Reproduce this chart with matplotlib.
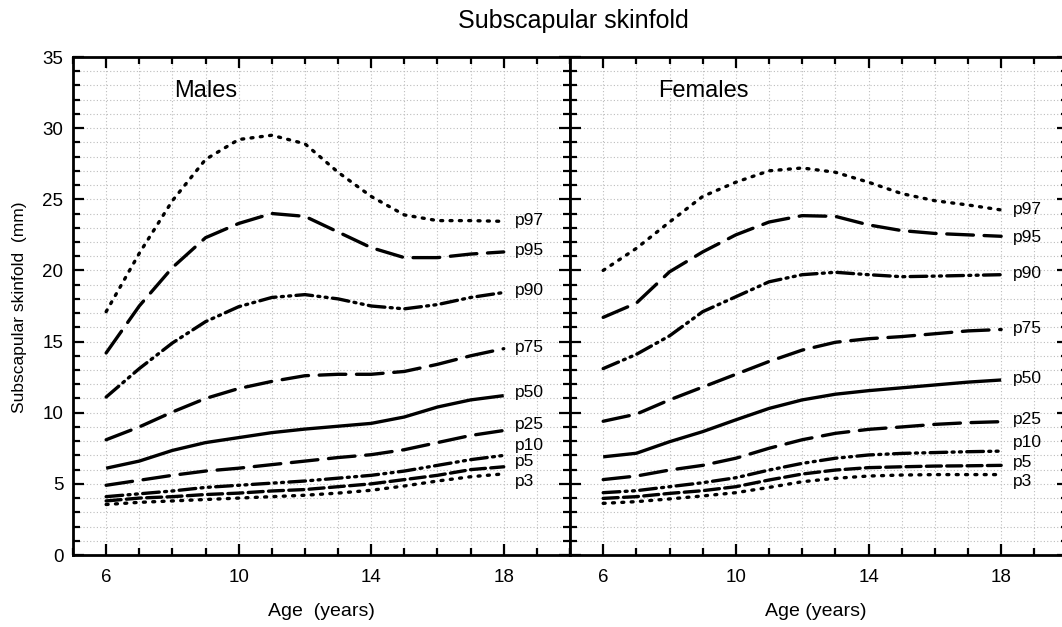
import matplotlib
matplotlib.use("Agg")
import matplotlib.pyplot as plt
from matplotlib.ticker import MultipleLocator, FixedLocator

plt.rcParams['font.family'] = ['Liberation Sans', 'DejaVu Sans']

ages = [6, 7, 8, 9, 10, 11, 12, 13, 14, 15, 16, 17, 18]
percentiles = ["p3", "p5", "p10", "p25", "p50", "p75", "p90", "p95", "p97"]

males_p3  = [3.55, 3.7, 3.8, 3.9, 4.0, 4.1, 4.2, 4.35, 4.55, 4.85, 5.2, 5.5, 5.7]
males_p5  = [3.8, 4.0, 4.1, 4.25, 4.35, 4.5, 4.6, 4.8, 5.0, 5.3, 5.6, 6.0, 6.2]
males_p10 = [4.1, 4.3, 4.5, 4.75, 4.9, 5.05, 5.2, 5.4, 5.6, 5.9, 6.3, 6.7, 7.0]
males_p25 = [4.9, 5.25, 5.6, 5.9, 6.1, 6.35, 6.6, 6.85, 7.05, 7.4, 7.9, 8.4, 8.75]
males_p50 = [6.1, 6.6, 7.35, 7.9, 8.25, 8.6, 8.85, 9.05, 9.25, 9.7, 10.4, 10.9, 11.2]
males_p75 = [8.1, 9.0, 10.05, 11.0, 11.7, 12.2, 12.6, 12.7, 12.7, 12.9, 13.4, 14.0, 14.5]
males_p90 = [11.1, 13.1, 14.9, 16.4, 17.45, 18.1, 18.3, 18.0, 17.5, 17.3, 17.6, 18.1, 18.45]
males_p95 = [14.2, 17.5, 20.2, 22.3, 23.3, 24.0, 23.8, 22.7, 21.6, 20.9, 20.9, 21.15, 21.3]
males_p97 = [17.1, 21.2, 24.9, 27.8, 29.2, 29.5, 28.9, 26.9, 25.2, 23.9, 23.5, 23.5, 23.45]

females_p3  = [3.63, 3.75, 3.94, 4.15, 4.38, 4.75, 5.15, 5.39, 5.55, 5.62, 5.65, 5.65, 5.65]
females_p5  = [3.98, 4.1, 4.33, 4.52, 4.8, 5.27, 5.69, 5.97, 6.14, 6.2, 6.25, 6.27, 6.3]
females_p10 = [4.38, 4.52, 4.8, 5.08, 5.43, 5.97, 6.44, 6.8, 7.03, 7.14, 7.2, 7.26, 7.3]
females_p25 = [5.3, 5.55, 5.97, 6.3, 6.8, 7.5, 8.1, 8.55, 8.83, 9.0, 9.18, 9.3, 9.37]
females_p50 = [6.9, 7.15, 7.96, 8.67, 9.5, 10.3, 10.9, 11.3, 11.55, 11.75, 11.95, 12.15, 12.3]
females_p75 = [9.4, 9.9, 10.9, 11.8, 12.7, 13.6, 14.4, 14.95, 15.2, 15.35, 15.55, 15.75, 15.85]
females_p90 = [13.1, 14.1, 15.4, 17.1, 18.15, 19.2, 19.7, 19.87, 19.7, 19.56, 19.6, 19.65, 19.7]
females_p95 = [16.7, 17.7, 19.9, 21.3, 22.5, 23.4, 23.85, 23.8, 23.2, 22.8, 22.6, 22.5, 22.4]
females_p97 = [20.0, 21.55, 23.4, 25.2, 26.2, 27.0, 27.2, 26.9, 26.2, 25.4, 24.9, 24.6, 24.25]

males_label_y = [5.2, 6.56, 7.73, 9.2, 11.45, 14.6, 18.6, 21.4, 23.5]
females_label_y = [5.2, 6.5, 7.9, 9.5, 12.4, 15.9, 19.8, 22.3, 24.3]

males = [males_p3, males_p5, males_p10, males_p25, males_p50,
         males_p75, males_p90, males_p95, males_p97]
females = [females_p3, females_p5, females_p10, females_p25, females_p50,
           females_p75, females_p90, females_p95, females_p97]

dot = (0.6, 2.2)
longdash = (8.0, 3.2)
shortdash = (4.5, 1.6)
dashdotdot = (5.0, 1.6, 0.6, 1.6, 0.6, 1.6)
styles = [dot, shortdash, dashdotdot, longdash, None, longdash, dashdotdot, longdash, dot]

W, H = 1062, 627
fig = plt.figure(figsize=(W / 100, H / 100), dpi=100)

def px_axes(x0, x1, y0, y1):
    return fig.add_axes([x0 / W, (H - y1) / H, (x1 - x0) / W, (y1 - y0) / H])

axL = px_axes(73, 570, 57, 555)
axR = px_axes(570, 1067.5, 57, 555)

panels = [(axL, males, males_label_y, "Males", 8.05, "Age  (years)", 0.5),
          (axR, females, females_label_y, "Females", 7.65, "Age (years)", 0.494)]

for ax, data, label_y, name, name_x, xlab, xlab_pos in panels:
    ax.set_xlim(5, 20)
    ax.set_ylim(0, 35)
    ax.xaxis.set_major_locator(FixedLocator([6, 10, 14, 18]))
    ax.xaxis.set_minor_locator(MultipleLocator(1))
    ax.yaxis.set_major_locator(MultipleLocator(5))
    ax.yaxis.set_minor_locator(MultipleLocator(1))
    ax.grid(which='both', color='#bdbdbd', linestyle=(0, (1, 2)), linewidth=0.8)
    ax.set_axisbelow(True)
    ax.tick_params(which='both', direction='in', top=True, right=True,
                   width=1.6, labelsize=13.5, color='black')
    ax.tick_params(axis='x', which='both', pad=10)
    ax.tick_params(axis='y', which='both', pad=7)
    ax.tick_params(which='major', length=8)
    ax.tick_params(which='minor', length=5)
    for sp in ax.spines.values():
        sp.set_linewidth(2.0)
    for vals, st, ly, pname in zip(data, styles, label_y, percentiles):
        line, = ax.plot(ages, vals, color='black', linewidth=2.4,
                        dash_capstyle='round', solid_capstyle='butt')
        if st is not None:
            line.set_dashes(st)
        ax.text(18.35, ly, pname, fontsize=12.5, va='center', ha='left')
    ax.text(name_x, 32.6, name, fontsize=17, va='center', ha='left')
    ax.set_xlabel(xlab, fontsize=14)
    ax.xaxis.set_label_coords(xlab_pos, (555 - 612) / 498)
    ax.xaxis.label.set_va('center')

axL.set_ylabel("Subscapular skinfold  (mm)", fontsize=12.5)
axL.yaxis.set_label_coords((20 - 73) / 497, 0.497)
axL.yaxis.label.set_va('center')
axR.tick_params(axis='y', which='both', labelleft=False)

fig.text(573 / W, 1 - 21 / H, "Subscapular skinfold", fontsize=18, ha='center', va='center')

fig.savefig("out.png", dpi=100)
